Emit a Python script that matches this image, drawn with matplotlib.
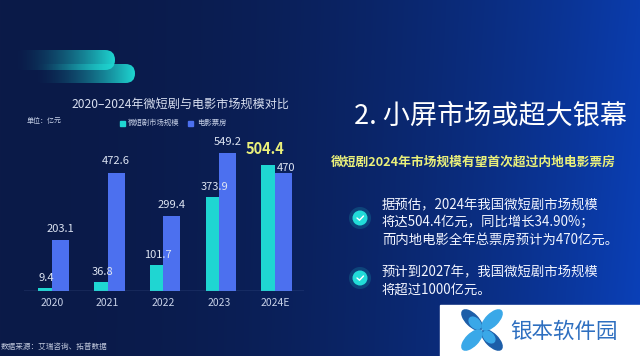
import numpy as np
import matplotlib
matplotlib.use('Agg')
import matplotlib.pyplot as plt
from matplotlib.patches import FancyBboxPatch, Circle, Rectangle, Ellipse

plt.rcParams['font.family'] = ['Noto Sans CJK SC', 'DejaVu Sans']

# data
years = ['2020', '2021', '2022', '2023', '2024E']
drama = [9.4, 36.8, 101.7, 373.9, 504.4]
box_office = [203.1, 472.6, 299.4, 549.2, 470]

chart_title = '2020\u20132024年微短剧与电影市场规模对比'
unit_text = '单位：亿元'
legend_labels = ['微短剧市场规模', '电影票房']
source_text = '数据来源：艾瑞咨询、拓普数据'
headline = '2. 小屏市场或超大银幕'
subline = '微短剧2024年市场规模有望首次超过内地电影票房'
bullet1 = ['据预估，2024年我国微短剧市场规模',
           '将达504.4亿元，同比增长34.90%；',
           '而内地电影全年总票房预计为470亿元。']
bullet2 = ['预计到2027年，我国微短剧市场规模',
           '将超过1000亿元。']
watermark = '银本软件园'

TEAL = '#1fd6d2'
BLUE = '#4c70ef'
YELLOW = '#eaf07a'

W, H = 640, 356
fig = plt.figure(figsize=(W / 100, H / 100), dpi=100)

# background, pixel coordinates
bg = fig.add_axes([0, 0, 1, 1])
bg.set_xlim(0, W)
bg.set_ylim(H, 0)
bg.axis('off')
xx = np.linspace(0, 1, W)
t = xx ** 2.1
c0 = np.array([11, 26, 72]) / 255
c1 = np.array([10, 60, 172]) / 255
row = c0[None, :] + (c1 - c0)[None, :] * t[:, None]
grad = np.repeat(row[None, :, :], H, axis=0)
yy = np.linspace(0, 1, H)[:, None, None]
grad = grad * (1 + 0.08 * yy * t[None, :, None])
bg.imshow(np.clip(grad, 0, 1), extent=[0, W, H, 0], aspect='auto', zorder=0)

# decorative pills
def pill(x0, y0, w, h):
    p = FancyBboxPatch((x0, y0), w, h, boxstyle='round,pad=0,rounding_size=%f' % (h / 2),
                       facecolor='none', edgecolor='none', zorder=1)
    bg.add_patch(p)
    g = np.zeros((2, 200, 4))
    a = np.linspace(0, 1, 200) ** 1.6
    g[..., 0], g[..., 1], g[..., 2] = 0.12, 0.84, 0.82
    g[..., 3] = a
    im = bg.imshow(g, extent=[x0, x0 + w, y0 + h, y0], aspect='auto', zorder=1)
    im.set_clip_path(p)

pill(33, 64, 102, 19)
pill(13, 50, 102, 20)

# chart title and legend
bg.text(180, 104, chart_title, fontsize=8.7, color='#d8dff0', ha='center', va='center')
bg.text(27, 121, unit_text, fontsize=5, color='#c8d2e8', ha='left', va='center')
bg.add_patch(Rectangle((120, 120.5), 5, 5, color=TEAL))
bg.text(128, 123, legend_labels[0], fontsize=5.3, color='#c8d2e8', va='center')
bg.add_patch(Rectangle((188, 120.5), 5, 5, color=BLUE))
bg.text(197, 123, legend_labels[1], fontsize=5.3, color='#c8d2e8', va='center')
bg.text(1, 347, source_text, fontsize=5.5, color='#c0c8dc', va='center')

# bar chart
ax = fig.add_axes([24 / W, (H - 290.7) / H, 280 / W, 150 / H])
ax.patch.set_alpha(0)
x = np.arange(len(years))
tw, bw = 0.245, 0.305
ax.bar(x - tw / 2, drama, tw, color=TEAL, zorder=2)
ax.bar(x + bw / 2, box_office, bw, color=BLUE, zorder=2)
ax.axhline(0, color='#6a88c0', lw=0.9, zorder=3)
ax.set_xlim(-0.5, 4.52)
ax.set_ylim(0, 600)
for s in ax.spines.values():
    s.set_visible(False)
ax.set_yticks([])
ax.set_xticks(x)
ax.set_xticklabels(years, fontsize=7.5, color='#c8d2e8')
ax.tick_params(axis='x', length=0, pad=5.5)

for i, v in enumerate(drama):
    if i == len(drama) - 1:
        ax.annotate('%g' % v, (x[i] - tw / 2 - 0.05, v), xytext=(0, 5.5), textcoords='offset points',
                    ha='center', va='bottom', fontsize=10.5, color=YELLOW, fontweight='bold')
    else:
        ax.annotate('%g' % v, (x[i] - tw / 2 + 0.03, v), xytext=(0, 3.5), textcoords='offset points',
                    ha='center', va='bottom', fontsize=8, color='#dde4f2')
for i, v in enumerate(box_office):
    off = 0.5 if i == len(box_office) - 1 else 4.5
    dx = 0.05 if i == len(box_office) - 1 else 0
    ax.annotate('%g' % v, (x[i] + bw / 2 + dx, v), xytext=(0, off), textcoords='offset points',
                ha='center', va='bottom', fontsize=8, color='#dde4f2')

# right side text
bg.text(490, 116, headline, fontsize=19.5, color='white', ha='center', va='center')
bg.text(473.5, 162, subline, fontsize=9.2, color=YELLOW, ha='center', va='center', fontweight='bold')
for i, line in enumerate(bullet1):
    bg.text(382, 205 + 17.5 * i, line, fontsize=9.6, color='#f2f5ff', va='center')
for i, line in enumerate(bullet2):
    bg.text(382, 272 + 17.5 * i, line, fontsize=9.6, color='#f2f5ff', va='center')

for cy in (218, 278):
    bg.add_patch(Circle((360, cy), 11, color=TEAL, alpha=0.18, lw=0))
    bg.add_patch(Circle((360, cy), 7.5, color='#22dcd8', lw=0))
    bg.plot([357, 359.5, 363.5], [cy, cy + 2.2, cy - 2], color='white', lw=1, solid_capstyle='round')

# watermark box
bg.add_patch(Rectangle((440, 305), 200, 51, color='white', zorder=4))
lc, dc = '#3aa8e8', '#1d5ea8'
cx, cy = 482, 330
for (dx, dy, ang, col) in [(-10, -10, 45, dc), (10, 10, 45, dc), (10, -10, -45, lc), (-10, 10, -45, lc)]:
    bg.add_patch(Ellipse((cx + dx, cy + dy), 26, 12, angle=ang, color=col, zorder=5))
for (dx, dy, ang) in [(-7, -7, 45), (7, 7, 45)]:
    bg.add_patch(Ellipse((cx + dx, cy + dy), 14, 9, angle=ang, color=lc, zorder=6))
bg.text(510, 332, watermark, fontsize=15.5, color='#2e6fc0', va='center', ha='left', zorder=6)

fig.savefig('out.png', dpi=100)
